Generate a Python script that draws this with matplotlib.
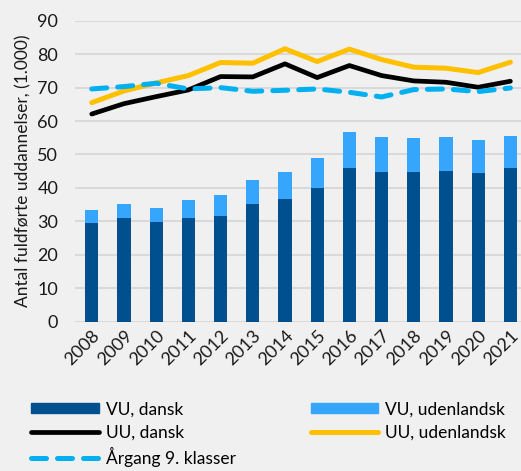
import matplotlib.pyplot as plt
import numpy as np
from matplotlib.patches import Patch
from matplotlib.lines import Line2D

plt.rcParams['font.family'] = ['Lato', 'DejaVu Sans']

years = ['2008', '2009', '2010', '2011', '2012', '2013', '2014',
         '2015', '2016', '2017', '2018', '2019', '2020', '2021']
vu_dansk = [29.6, 30.9, 29.9, 30.9, 31.6, 35.1, 36.7,
            40.1, 46.0, 44.7, 44.7, 45.0, 44.4, 45.9]
vu_total = [33.3, 35.1, 34.1, 36.3, 37.8, 42.5, 44.9,
            48.9, 56.7, 55.1, 54.8, 55.1, 54.3, 55.6]
vu_udl = [t - d for t, d in zip(vu_total, vu_dansk)]
uu_dansk = [62.1, 65.2, 67.3, 69.3, 73.3, 73.2, 77.1,
            73.0, 76.6, 73.6, 72.0, 71.6, 70.1, 71.9]
uu_udl = [65.5, 69.0, 71.4, 73.6, 77.5, 77.3, 81.6,
          77.8, 81.5, 78.4, 76.1, 75.8, 74.5, 77.6]
aargang = [69.6, 70.3, 71.3, 69.6, 70.0, 68.9, 69.2,
           69.6, 68.6, 67.2, 69.4, 69.6, 68.8, 69.9]

c_dark = '#00508f'
c_light = '#36a6fc'
c_yellow = '#ffc000'
c_dash = '#00b0f0'
bg = '#f0f0f0'

fig = plt.figure(figsize=(5.21, 4.71), dpi=100, facecolor=bg)
ax = fig.add_axes([0.144, 0.317, 0.856, 0.639], facecolor=bg)

x = np.arange(len(years))
ax.bar(x, vu_dansk, width=0.41, color=c_dark, zorder=2)
ax.bar(x, vu_udl, width=0.41, bottom=vu_dansk, color=c_light, zorder=2)
ax.plot(x, uu_dansk, color='black', lw=3.4, zorder=3, solid_capstyle='round', solid_joinstyle='round')
ax.plot(x, uu_udl, color=c_yellow, lw=3.6, zorder=3, solid_capstyle='round', solid_joinstyle='round')
ax.plot(x, aargang, color=c_dash, lw=3.6, zorder=4, dashes=(3, 2.2), dash_capstyle='round')

ax.set_ylim(0, 90)
ax.set_xlim(-0.52, 13.33)
ax.set_yticks(range(0, 91, 10))
ax.set_xticks(x)
ax.set_xticklabels(years, rotation=45, ha='right', rotation_mode='anchor')
ax.tick_params(length=0, labelsize=13, colors='#1a1a1a')
ax.tick_params(axis='y', pad=12)
ax.tick_params(axis='x', pad=4)
ax.grid(axis='y', color='#d9d9d9', lw=1.5, zorder=0)
ax.set_axisbelow(True)
for s in ax.spines.values():
    s.set_visible(False)
ax.set_ylabel('Antal fuldførte uddannelser, (1.000)', fontsize=12.5, color='#1a1a1a', labelpad=4)

handles = [
    Patch(color=c_dark),
    Line2D([], [], color='black', lw=3.4, solid_capstyle='round'),
    Line2D([], [], color=c_dash, lw=3.6, dashes=(3, 2.2), dash_capstyle='round'),
    Patch(color=c_light),
    Line2D([], [], color=c_yellow, lw=3.6, solid_capstyle='round'),
]
labels = ['VU, dansk', 'UU, dansk', 'Årgang 9. klasser', 'VU, udenlandsk', 'UU, udenlandsk']
fig.legend(handles, labels, ncol=2, loc='lower left', bbox_to_anchor=(0.03, -0.025),
           frameon=False, fontsize=12.5, handlelength=3.9, handleheight=0.55,
           handletextpad=0.4, columnspacing=4.3, labelspacing=0.4)

fig.savefig('out.png', dpi=100, facecolor=bg)
